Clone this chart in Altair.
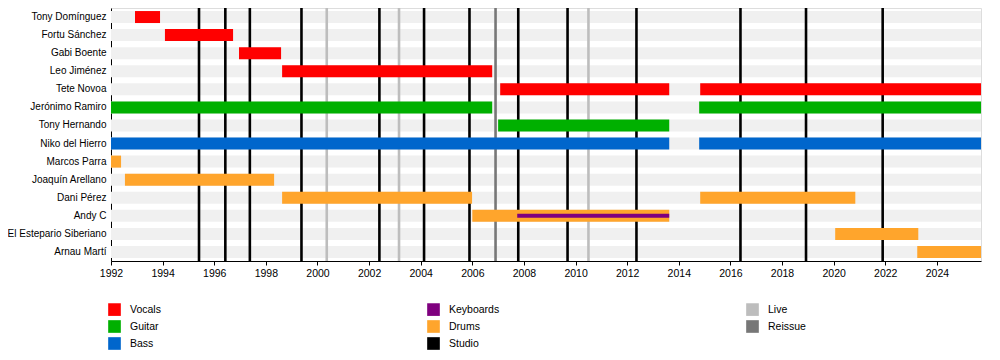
import altair as alt
import pandas as pd

members = ["Tony Domínguez", "Fortu Sánchez", "Gabi Boente", "Leo Jiménez", "Tete Novoa",
           "Jerónimo Ramiro", "Tony Hernando", "Niko del Hierro", "Marcos Parra",
           "Joaquín Arellano", "Dani Pérez", "Andy C", "El Estepario Siberiano", "Arnau Martí"]

X_MIN, X_MAX = 1992.0, 2025.71

bar_member = ["Tony Domínguez", "Fortu Sánchez", "Gabi Boente", "Leo Jiménez",
              "Tete Novoa", "Tete Novoa",
              "Jerónimo Ramiro", "Jerónimo Ramiro",
              "Tony Hernando",
              "Niko del Hierro", "Niko del Hierro",
              "Marcos Parra", "Joaquín Arellano",
              "Dani Pérez", "Dani Pérez",
              "Andy C", "Andy C", "El Estepario Siberiano", "Arnau Martí"]
bar_start = [1992.93, 1994.09, 1996.96, 1998.63,
             2007.08, 2014.83,
             1992.0, 2014.79,
             2007.0,
             1992.0, 2014.79,
             1992.0, 1992.54,
             1998.63, 2014.83,
             2006.0, 2007.74, 2020.06, 2023.24]
bar_end = [1993.9, 1996.73, 1998.59, 2006.77,
           2013.63, 2025.71,
           2006.77, 2025.71,
           2013.63,
           2013.63, 2025.71,
           1992.39, 1998.32,
           2005.99, 2020.84,
           2013.63, 2013.63, 2023.28, 2025.71]
bar_role = ["Vocals", "Vocals", "Vocals", "Vocals",
            "Vocals", "Vocals",
            "Guitar", "Guitar",
            "Guitar",
            "Bass", "Bass",
            "Drums", "Drums",
            "Drums", "Drums",
            "Drums", "Keyboards", "Drums", "Drums"]
# thickness class: main bars are thick, secondary instruments are thin
bar_thin = [0] * 16 + [1] + [0] * 2

line_year = [1995.41, 1996.43, 1997.38, 1999.38, 2000.36, 2002.40, 2003.16, 2004.13,
             2005.89, 2006.90, 2007.78, 2009.69, 2010.50, 2012.36, 2016.39, 2018.93, 2021.90]
line_type = ["Studio", "Studio", "Studio", "Studio", "Live", "Studio", "Live", "Studio",
             "Studio", "Reissue", "Studio", "Studio", "Live", "Studio", "Studio", "Studio", "Studio"]

legend_order = ["Vocals", "Keyboards", "Live", "Guitar", "Drums", "Reissue", "Bass", "Studio"]
role_colors = {"Vocals": "#ff0000", "Guitar": "#00b000", "Bass": "#0066cc",
               "Keyboards": "#7f007f", "Drums": "#ffa52c", "Studio": "#000000",
               "Live": "#bdbdbd", "Reissue": "#777777"}
color_range = [role_colors[r] for r in legend_order]
line_kinds = ["Studio", "Live", "Reissue"]

bars = pd.DataFrame({"member": bar_member, "start": bar_start, "end": bar_end,
                     "role": bar_role, "thin": bar_thin})
lines = pd.DataFrame({"year": line_year, "album": line_type})
bands = pd.DataFrame({"member": members, "start": [X_MIN] * len(members), "end": [X_MAX] * len(members)})

FONT = "Liberation Sans"
xscale = alt.Scale(domain=[X_MIN, X_MAX], nice=False, zero=False)
yscale = alt.Scale(domain=members, paddingInner=0, paddingOuter=0)

xaxis = alt.Axis(values=list(range(1992, 2026)), labelExpr="datum.value % 2 == 0 ? datum.value : ''",
                 format="d", grid=False, tickSize=4, tickColor="#000", domainColor="#000",
                 labelFontSize=10.5, labelFont=FONT, labelColor="#000", title=None,
                 labelPadding=3, labelFlush=False, labelOverlap=False)
yaxis = alt.Axis(ticks=False, domainColor="#000", labelFontSize=10, labelFont=FONT,
                 labelColor="#000", title=None, labelPadding=5, grid=False, labelLimit=200)

band_layer = alt.Chart(bands).mark_bar(size=12, color="#f0f0f0").encode(
    x=alt.X("start:Q", scale=xscale, axis=xaxis),
    x2="end:Q",
    y=alt.Y("member:N", scale=yscale, axis=yaxis, sort=members),
)

rule_layer = alt.Chart(lines).mark_rule(strokeWidth=2.6).encode(
    x=alt.X("year:Q", scale=xscale),
    stroke=alt.Stroke("album:N", scale=alt.Scale(domain=line_kinds,
                                                 range=[role_colors[k] for k in line_kinds]),
                      legend=None),
)

bar_layer = alt.Chart(bars).mark_bar().encode(
    x=alt.X("start:Q", scale=xscale),
    x2="end:Q",
    y=alt.Y("member:N", scale=yscale, sort=members),
    size=alt.Size("thin:O", scale=alt.Scale(domain=[0, 1], range=[12, 4]), legend=None),
    color=alt.Color("role:N",
                    scale=alt.Scale(domain=legend_order, range=color_range),
                    legend=alt.Legend(orient="none", legendX=-3, legendY=295, columns=3,
                                      direction="horizontal", title=None, symbolType="square",
                                      symbolSize=160, symbolStrokeWidth=0, labelFont=FONT,
                                      labelFontSize=10.5, labelColor="#000", labelOffset=9,
                                      gridAlign="all", columnPadding=246, rowPadding=4)),
    order=alt.Order("thin:O"),
)

chart = alt.layer(band_layer, rule_layer, bar_layer).properties(
    width=870, height=253, autosize="none",
    padding={"left": 103, "top": 0, "right": 11, "bottom": 95},
).configure_view(stroke=None).configure(background="white")

chart.save("out.html", embed_options={"renderer": "svg", "actions": False})
